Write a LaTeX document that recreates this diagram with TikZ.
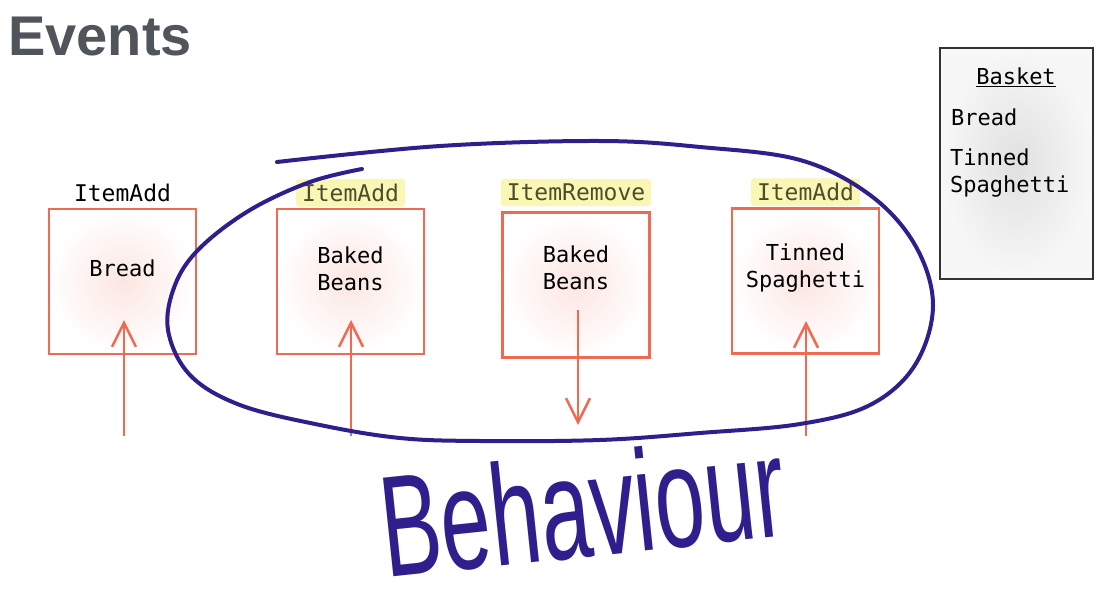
\documentclass[tikz,border=0pt]{standalone}
\usepackage{fontspec}
\usetikzlibrary{positioning}
\usetikzlibrary{arrows.meta}
\newfontfamily\evmono{DejaVu Sans Mono}
\newfontfamily\evsans{Liberation Sans}
\newfontfamily\evhand[FakeStretch=0.625]{Liberation Sans}
\definecolor{evred}{RGB}{238,106,82}
\definecolor{evblue}{RGB}{46,31,140}
\definecolor{evgray}{RGB}{80,85,92}
\definecolor{evhl}{RGB}{250,246,180}
\definecolor{evolive}{RGB}{80,76,42}
\tikzset{
    evbox/.style = {rectangle, line width=2.5pt, draw=evred, minimum width=147pt, minimum height=145pt, inner sep=0, shading=radial, inner color=evred!17, outer color=white},
    evtext/.style = {inner sep=0, align=center, text=black, font=\evmono\fontsize{22}{27}\selectfont},
    evlabel/.style = {inner sep=0, text=black, font=\evmono\fontsize{23}{27}\selectfont},
    evlabelhl/.style = {evlabel, text=evolive, fill=evhl, inner xsep=6pt, inner ysep=5pt, rounded corners=3pt},
    evarrow/.style = {-{Straight Barb[length=24pt,width=24pt,line width=2.5pt]}, line width=2.5pt, evred},
    evloop/.style = {line width=4pt, evblue, line cap=round},
    basketbox/.style = {rectangle, line width=2pt, draw=black!80, minimum width=153pt, minimum height=231pt, shading=radial, inner color=black!12, outer color=black!3}
}

\begin{document}
\begin{tikzpicture}[x=1pt,y=-1pt]
\useasboundingbox (0,0) rectangle (1100,589);

\node[anchor=base west, inner sep=0, text=evgray, font=\evsans\bfseries\fontsize{56}{60}\selectfont] at (8,55) (title) {Events};

% events
\node[evbox] at (122.5,281.5) (b1) {};
\node[evbox] at (350.5,281.5) (b2) {};
\node[evbox] at (576.0,285.0) (b3) {};
\node[evbox] at (805.5,281.0) (b4) {};

\node[evlabel, above=6pt of b1.north] (l1) {ItemAdd};
\node[evlabelhl, above=1pt of b2.north] (l2) {ItemAdd};
\node[evlabelhl, above=5pt of b3.north] (l3) {ItemRemove};
\node[evlabelhl, above=1pt of b4.north] (l4) {ItemAdd};

\node[evtext] at ([yshift=13pt]b1.center) (t1) {Bread};
\node[evtext] at ([yshift=13pt]b2.center) (t2) {Baked\\Beans};
\node[evtext] at ([yshift=17pt]b3.center) (t3) {Baked\\Beans};
\node[evtext] at ([yshift=13pt]b4.center) (t4) {Tinned\\Spaghetti};

\coordinate (a1s) at (124,436); \coordinate (a1e) at (124,320);
\coordinate (a2s) at (351,436); \coordinate (a2e) at (351,320);
\coordinate (a3s) at (578,310); \coordinate (a3e) at (578,425);
\coordinate (a4s) at (806,436); \coordinate (a4e) at (806,321);
\draw[evarrow] (a1s) -- (a1e);
\draw[evarrow] (a2s) -- (a2e);
\draw[evarrow] (a3s) -- (a3e);
\draw[evarrow] (a4s) -- (a4e);

% the loop round the last three
\draw[evloop] plot[smooth, tension=0.6] coordinates {(277,162) (440,146) (600,141) (700,147) (800,160) (870,195) (915,245) (933,305) (915,365) (870,405) (800,424) (700,433) (600,440) (480,441) (400,438) (320,425) (240,405) (190,375) (168,330) (175,285) (200,248) (250,210) (310,182) (362,169)};

\node[anchor=base west, inner sep=0, rotate=6, text=evblue, font=\evhand\fontsize{144}{144}\selectfont] at (386,578) (beh) {Behaviour};

% basket
\node[basketbox] at (1016.5,163.5) (bk) {};
\node[evtext] at (1016,77) (bkt) {\underline{Basket}};
\node[evtext, anchor=west] at (951,117) (bk1) {Bread};
\node[evtext, anchor=west, align=left] at (950,173) (bk2) {Tinned\\Spaghetti};

\end{tikzpicture}
\end{document}
